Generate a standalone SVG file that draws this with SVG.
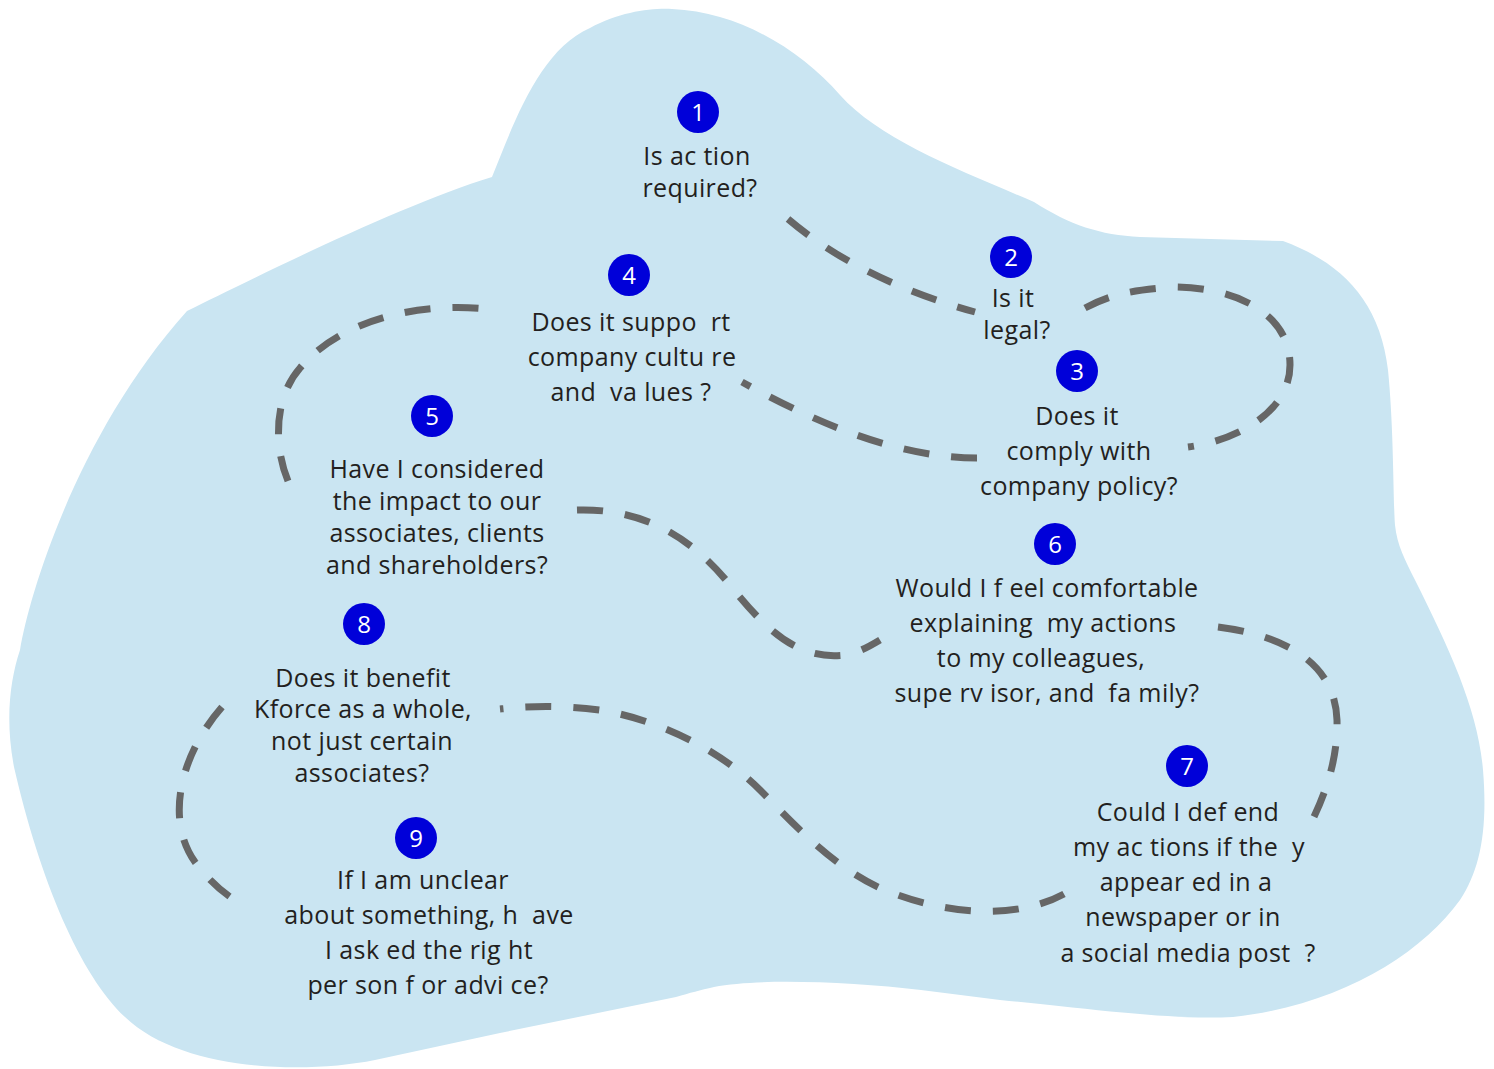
<svg xmlns="http://www.w3.org/2000/svg" width="1494" height="1069" viewBox="0 0 1494 1069">
<style>
.blob{fill:#cae5f2;stroke:none}
.dash{fill:none;stroke:#666666;stroke-width:7;stroke-dasharray:26 22}
.num{fill:#0000d9}
.numt{font-family:"Open Sans","Liberation Sans",sans-serif;font-size:24px;fill:#ffffff;text-anchor:middle}
.t{font-family:"Open Sans","Liberation Sans",sans-serif;font-size:25px;letter-spacing:0.4px;fill:#231f20;text-anchor:middle;white-space:pre}
</style>
<g id="background">
<path class="blob" d="M 492 177 C 515 120, 540 50, 590 28 C 620 12, 650 8, 672 9 C 740 12, 800 50, 840 95 C 880 140, 960 170, 1034 202 C 1070 225, 1100 235, 1140 237 L 1283 241 C 1340 262, 1380 300, 1388 370 C 1394 430, 1393 500, 1395 525 C 1397 545, 1405 560, 1415 580 C 1450 650, 1478 710, 1483 770 C 1488 830, 1480 870, 1460 900 C 1420 955, 1340 1005, 1233 1017 C 1170 1020, 1100 1010, 1000 1000 L 921 990 C 850 982, 760 978, 714 987 C 700 990, 690 993, 676 997 L 500 1033 L 375 1060 C 300 1075, 180 1070, 125 1017 C 80 975, 40 880, 14 767 C 5 720, 10 680, 20 650 C 30 590, 80 430, 187 311 C 250 280, 400 205, 492 177 Z"/>
</g>
<g id="connectors">
<path class="dash" d="M 788 219 Q 860 280, 975 312"/>
<path class="dash" d="M 1085 308 C 1110 295, 1130 290, 1173 287 C 1230 287, 1290 310, 1290 365 C 1290 410, 1240 440, 1188 447"/>
<path class="dash" d="M 977 458 C 900 458, 820 425, 742 382"/>
<path class="dash" d="M 288 481 C 275 450, 272 400, 300 368 C 340 320, 420 300, 496 310"/>
<path class="dash" d="M 577 510 C 640 508, 690 535, 730 585 C 770 635, 800 660, 845 655 C 860 652, 870 646, 880 640"/>
<path class="dash" d="M 1218 627 C 1280 635, 1335 660, 1337 720 C 1338 760, 1325 795, 1310 825"/>
<path class="dash" d="M 1064 894 C 1020 918, 950 918, 880 888 C 830 865, 790 820, 760 790 C 720 750, 660 720, 600 710 C 560 705, 530 706, 500 709"/>
<path class="dash" d="M 222 707 C 180 755, 165 820, 195 862 C 210 882, 225 895, 243 905"/>
</g>
<g id="node1">
<circle class="num" cx="698" cy="112" r="21"/><text class="numt" x="698" y="121">1</text>
<text class="t" x="697" y="165">Is ac tion</text>
<text class="t" x="700" y="197">required?</text>
</g>
<g id="node2">
<circle class="num" cx="1011" cy="257" r="21"/><text class="numt" x="1011" y="266">2</text>
<text class="t" x="1013" y="307">Is it</text>
<text class="t" x="1017" y="339">legal?</text>
</g>
<g id="node3">
<circle class="num" cx="1077" cy="371" r="21"/><text class="numt" x="1077" y="380">3</text>
<text class="t" x="1077" y="425">Does it</text>
<text class="t" x="1079" y="460">comply with</text>
<text class="t" x="1079" y="495">company policy?</text>
</g>
<g id="node4">
<circle class="num" cx="629" cy="275" r="21"/><text class="numt" x="629" y="284">4</text>
<text class="t" x="631" y="331">Does it suppo  rt</text>
<text class="t" x="632" y="366">company cultu re</text>
<text class="t" x="631" y="401">and  va lues ?</text>
</g>
<g id="node5">
<circle class="num" cx="432" cy="416" r="21"/><text class="numt" x="432" y="425">5</text>
<text class="t" x="437" y="478">Have I considered</text>
<text class="t" x="437" y="510">the impact to our</text>
<text class="t" x="437" y="542">associates, clients</text>
<text class="t" x="437" y="574">and shareholders?</text>
</g>
<g id="node6">
<circle class="num" cx="1055" cy="544" r="21"/><text class="numt" x="1055" y="553">6</text>
<text class="t" x="1047" y="597">Would I f eel comfortable</text>
<text class="t" x="1043" y="632">explaining  my actions</text>
<text class="t" x="1041" y="667">to my colleagues,</text>
<text class="t" x="1047" y="702">supe rv isor, and  fa mily?</text>
</g>
<g id="node7">
<circle class="num" cx="1187" cy="766" r="21"/><text class="numt" x="1187" y="775">7</text>
<text class="t" x="1188" y="821">Could I def end</text>
<text class="t" x="1189" y="856">my ac tions if the  y</text>
<text class="t" x="1186" y="891">appear ed in a</text>
<text class="t" x="1183" y="926">newspaper or in</text>
<text class="t" x="1188" y="962">a social media post  ?</text>
</g>
<g id="node8">
<circle class="num" cx="364" cy="624" r="21"/><text class="numt" x="364" y="633">8</text>
<text class="t" x="363" y="687">Does it benefit</text>
<text class="t" x="363" y="718">Kforce as a whole,</text>
<text class="t" x="362" y="750">not just certain</text>
<text class="t" x="362" y="782">associates?</text>
</g>
<g id="node9">
<circle class="num" cx="416" cy="838" r="21"/><text class="numt" x="416" y="847">9</text>
<text class="t" x="423" y="889">If I am unclear</text>
<text class="t" x="429" y="924">about something, h  ave</text>
<text class="t" x="429" y="959">I ask ed the rig ht</text>
<text class="t" x="428" y="994">per son f or advi ce?</text>
</g>
</svg>
